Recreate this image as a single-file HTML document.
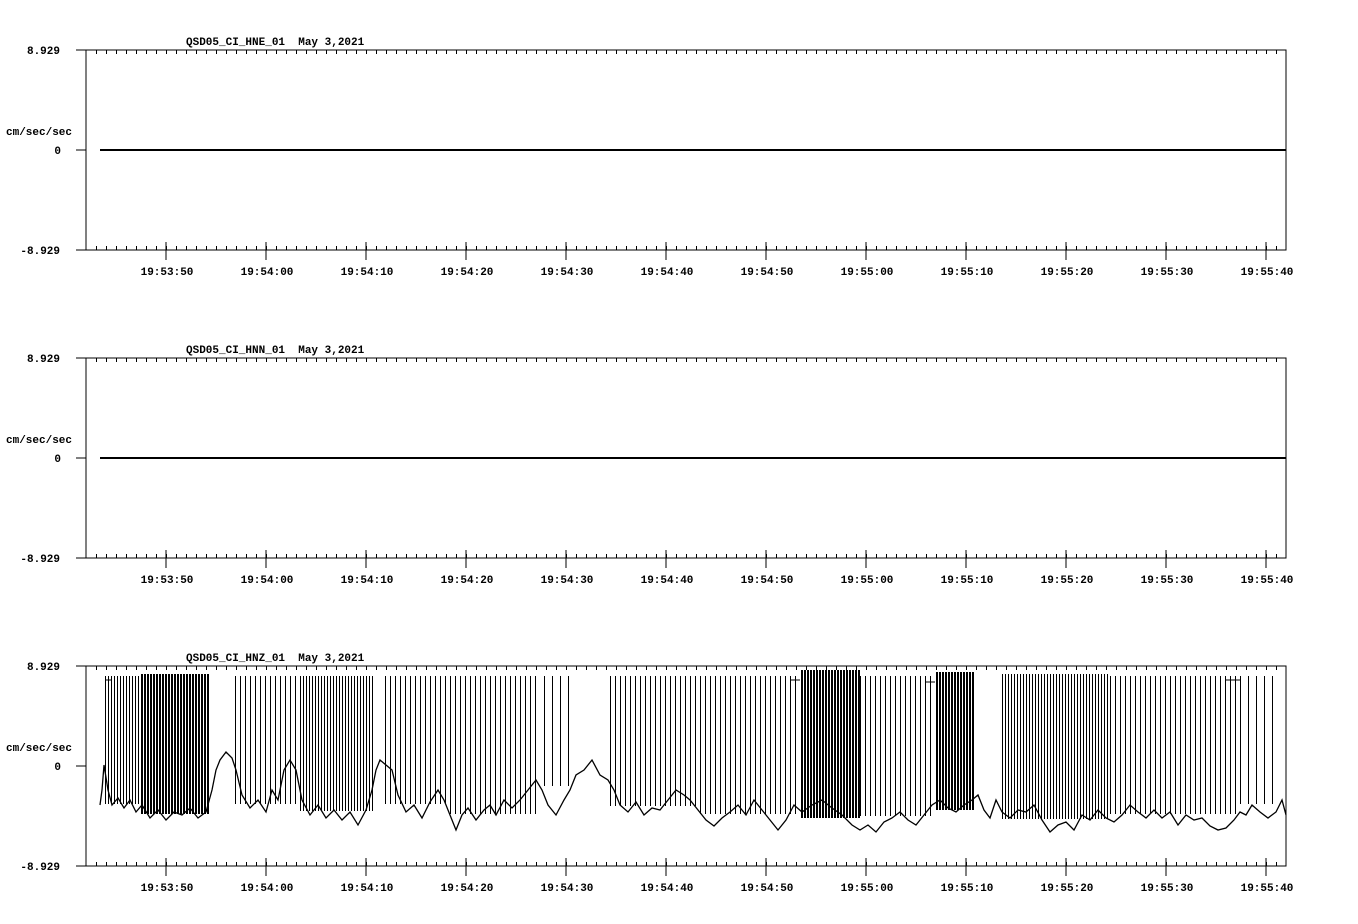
<!DOCTYPE html>
<html><head><meta charset="utf-8"><style>
body{margin:0;background:#fff;}
svg{display:block;}
text{font-family:"Liberation Mono",monospace;font-weight:bold;font-size:11px;fill:#000;white-space:pre;}
</style></head><body>
<svg width="1358" height="924" xmlns="http://www.w3.org/2000/svg">
<defs>
<pattern id="tt" x="96" y="0" width="10" height="4" patternUnits="userSpaceOnUse"><rect x="0" y="0" width="1" height="4" fill="#000"/></pattern>
<pattern id="p1" x="0" y="0" width="3" height="10" patternUnits="userSpaceOnUse"><rect width="2" height="10" fill="#000"/></pattern>
<pattern id="p2" x="0" y="0" width="3" height="10" patternUnits="userSpaceOnUse"><rect width="1" height="10" fill="#000"/></pattern>
<pattern id="p3" x="0" y="0" width="5" height="10" patternUnits="userSpaceOnUse"><rect width="1" height="10" fill="#000"/></pattern>
<pattern id="p4" x="0" y="0" width="8" height="10" patternUnits="userSpaceOnUse"><rect width="1" height="10" fill="#000"/></pattern>
<g id="ax">
<path d="M76 0H1286V200H76M86 0V200M76 100H86" stroke="#000" stroke-width="1" fill="none" shape-rendering="crispEdges"/>
<rect x="96" y="0" width="1190" height="4" fill="url(#tt)"/>
<rect x="96" y="196" width="1190" height="4" fill="url(#tt)"/>
<path d="M166 192V210M266 192V210M366 192V210M466 192V210M566 192V210M666 192V210M766 192V210M866 192V210M966 192V210M1066 192V210M1166 192V210M1266 192V210" stroke="#000" stroke-width="1" shape-rendering="crispEdges"/>
<text x="60" y="4" text-anchor="end">8.929</text>
<text x="60" y="204" text-anchor="end">-8.929</text>
<text x="61" y="104" text-anchor="end">0</text>
<text x="6" y="85">cm/sec/sec</text>
<g text-anchor="middle">
<text x="167" y="225">19:53:50</text><text x="267" y="225">19:54:00</text><text x="367" y="225">19:54:10</text><text x="467" y="225">19:54:20</text><text x="567" y="225">19:54:30</text><text x="667" y="225">19:54:40</text><text x="767" y="225">19:54:50</text><text x="867" y="225">19:55:00</text><text x="967" y="225">19:55:10</text><text x="1067" y="225">19:55:20</text><text x="1167" y="225">19:55:30</text><text x="1267" y="225">19:55:40</text>
</g>
</g>
</defs>
<text x="186" y="45">QSD05_CI_HNE_01  May 3,2021</text>
<use href="#ax" x="0" y="50"/>
<path d="M100 150H1286" stroke="#000" stroke-width="2" shape-rendering="crispEdges"/>
<text x="186" y="353">QSD05_CI_HNN_01  May 3,2021</text>
<use href="#ax" x="0" y="358"/>
<path d="M100 458H1286" stroke="#000" stroke-width="2" shape-rendering="crispEdges"/>
<text x="186" y="661">QSD05_CI_HNZ_01  May 3,2021</text>
<use href="#ax" x="0" y="666"/>
<!-- spike regions -->
<rect x="105" y="676" width="35" height="128" fill="url(#p2)"/>
<rect x="140" y="674" width="70" height="140" fill="url(#p1)"/>
<rect x="235" y="676" width="65" height="128" fill="url(#p3)"/>
<rect x="300" y="676" width="75" height="135" fill="url(#p2)"/>
<rect x="385" y="676" width="65" height="128" fill="url(#p3)"/>
<rect x="450" y="676" width="90" height="138" fill="url(#p3)"/>
<rect x="540" y="676" width="30" height="110" fill="url(#p4)"/>
<rect x="610" y="676" width="90" height="130" fill="url(#p3)"/>
<rect x="700" y="676" width="100" height="138" fill="url(#p3)"/>
<rect x="800" y="670" width="60" height="148" fill="url(#p1)"/>
<rect x="860" y="676" width="75" height="140" fill="url(#p3)"/>
<rect x="935" y="672" width="40" height="138" fill="url(#p1)"/>
<rect x="1000" y="674" width="110" height="145" fill="url(#p2)"/>
<rect x="1110" y="676" width="130" height="138" fill="url(#p3)"/>
<rect x="1240" y="676" width="40" height="128" fill="url(#p4)"/>
<path d="M1225 680H1240M925 682H935M790 680H800M105 680H112" stroke="#000" stroke-width="1"/>
<!-- baseline -->
<polyline fill="none" stroke="#000" stroke-width="1.3" points="100,805 102,790 104,765 108,790 112,805 118,798 124,808 130,800 136,812 142,805 150,818 158,810 166,820 174,812 182,815 190,808 198,818 206,812 212,790 216,770 220,760 226,752 232,758 236,770 242,795 250,808 258,800 266,812 272,790 278,800 284,770 290,760 296,770 302,800 310,815 318,805 326,818 334,810 342,820 350,812 358,825 366,810 372,790 376,770 380,760 386,765 392,770 398,795 406,812 414,805 422,818 430,802 438,790 444,800 450,815 456,830 462,815 468,808 476,820 484,810 490,805 496,815 504,800 512,808 520,800 528,790 536,780 542,790 548,805 556,815 564,800 570,790 576,775 584,770 592,760 600,775 608,780 614,790 620,805 628,812 636,802 644,815 652,808 660,810 668,800 676,790 684,795 690,800 698,810 706,820 714,826 722,818 730,812 738,805 746,815 754,800 762,810 770,820 778,830 786,820 794,805 802,812 812,805 822,800 832,808 842,815 852,825 860,830 868,825 876,832 884,822 892,818 900,812 908,820 916,825 924,815 932,805 940,800 948,808 956,812 964,805 972,800 978,795 984,810 990,818 996,800 1002,812 1010,818 1018,810 1026,812 1034,805 1042,820 1050,832 1058,825 1066,822 1074,830 1082,815 1090,820 1098,810 1106,818 1114,822 1122,815 1130,805 1138,812 1146,818 1154,810 1162,818 1170,812 1178,825 1186,815 1194,820 1202,818 1210,826 1218,830 1226,828 1234,820 1240,812 1246,815 1252,805 1260,812 1268,818 1276,812 1282,800 1286,815"/>
</svg>
</body></html>
